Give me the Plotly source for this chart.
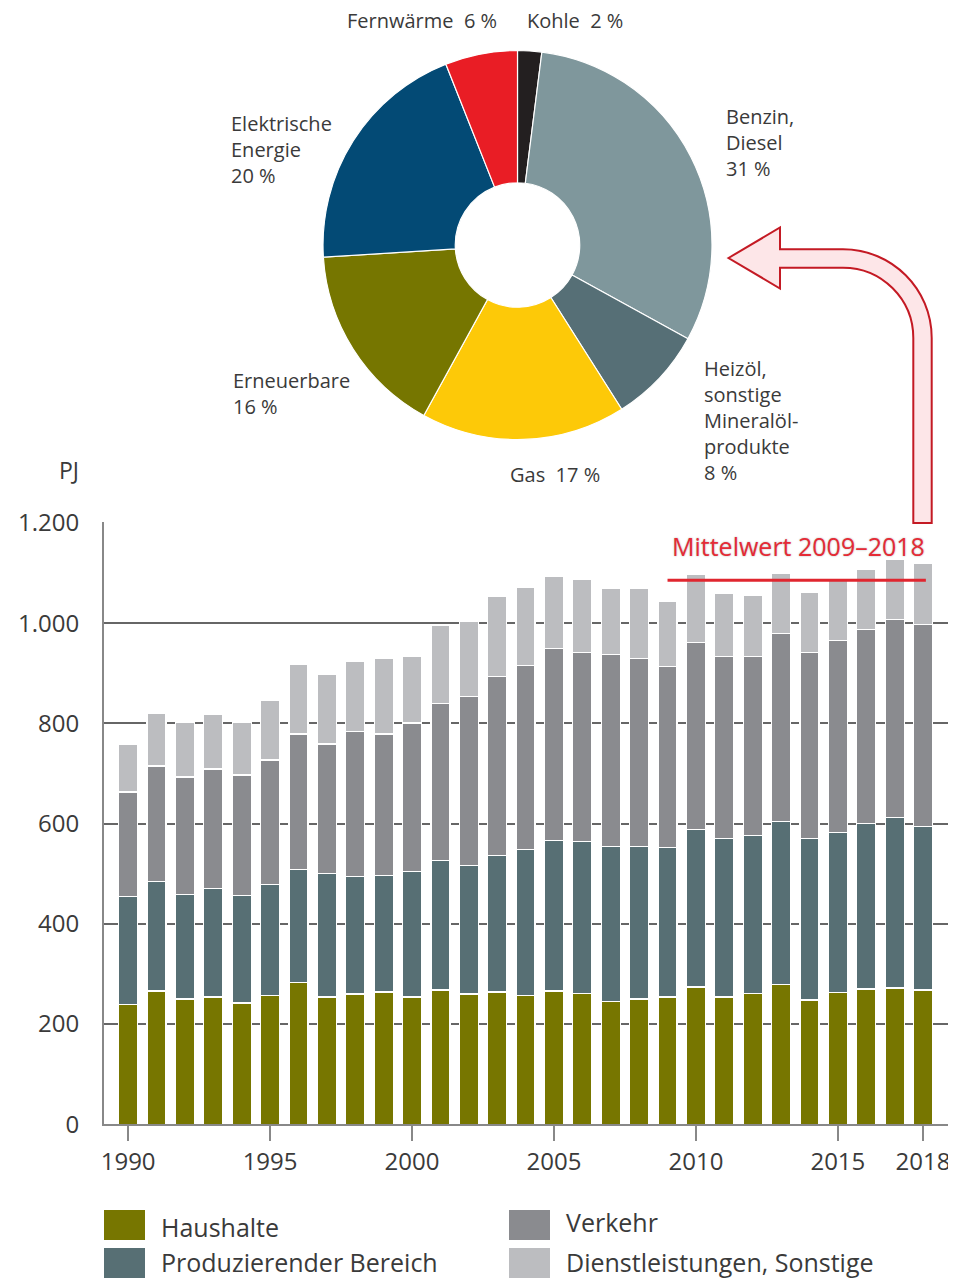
import plotly.graph_objects as go

# Die Seite hat 8 px Rand -> Figur entsprechend kleiner und Koordinaten verschoben
OX, OY = 8, 8
W, H = 948, 1272


def px(x):
    # Pixel (Screenshot) -> paper (horizontal)
    return (x - OX) / W


def py(y):
    # Pixel (Screenshot, von oben) -> paper (vertikal)
    return 1 - (y - OY) / H


# Endenergieverbrauch nach Sektoren (PJ)
years = list(range(1990, 2019))
haushalte = [239, 266, 250, 254, 242, 257, 283, 254, 260, 264, 254, 268, 260, 264, 257,
             266, 261, 245, 250, 254, 274, 254, 261, 279, 248, 263, 270, 272, 268]
produzierend = [215, 218, 208, 216, 214, 222, 226, 246, 235, 233, 250, 259, 256, 272, 291,
                301, 304, 310, 305, 299, 315, 317, 315, 326, 323, 320, 330, 340, 326]
verkehr = [209, 231, 235, 239, 241, 248, 270, 259, 289, 282, 297, 313, 338, 358, 367,
           382, 377, 382, 374, 360, 372, 362, 357, 374, 371, 382, 388, 395, 403]
dienstleistungen = [96, 106, 110, 110, 106, 118, 138, 138, 139, 150, 132, 155, 149, 160, 157,
                    145, 146, 133, 141, 130, 136, 127, 123, 121, 120, 122, 119, 121, 123]

# Energieträger (Anteile in %)
pie_labels = ["Kohle", "Benzin, Diesel", "Heizöl, sonstige Mineralölprodukte", "Gas",
              "Erneuerbare", "Elektrische Energie", "Fernwärme"]
pie_values = [2, 31, 8, 17, 16, 20, 6]
pie_colors = ["#231f20", "#7f979c", "#566f76", "#fdc908", "#767600", "#034a75", "#e91d25"]

x_ticks = [1990, 1995, 2000, 2005, 2010, 2015, 2018]
y_ticks = [0, 200, 400, 600, 800, 1000, 1200]
y_ticklabels = ["0", "200", "400", "600", "800", "1.000", "1.200"]

sectors = [
    ("Haushalte", haushalte, "#777600"),
    ("Produzierender Bereich", produzierend, "#576f74"),
    ("Verkehr", verkehr, "#8a8b8f"),
    ("Dienstleistungen, Sonstige", dienstleistungen, "#bcbdc0"),
]

totals = [sum(v) for v in zip(haushalte, produzierend, verkehr, dienstleistungen)]
mean_years = [y for y in years if y >= 2009]
mittelwert = sum(t for y, t in zip(years, totals) if y >= 2009) / len(mean_years)

FONT = "Open Sans"
TXT = "#3a3a3a"

fig = go.Figure()

fig.add_trace(go.Pie(
    labels=pie_labels,
    values=pie_values,
    marker=dict(colors=pie_colors, line=dict(color="white", width=1.2)),
    sort=False,
    direction="clockwise",
    rotation=0,
    hole=0.32,
    textinfo="none",
    hoverinfo="label+percent",
    showlegend=False,
    domain=dict(x=[px(323), px(712)], y=[py(440), py(50)]),
))

for name, vals, color in sectors:
    fig.add_trace(go.Bar(
        x=years, y=vals, name=name,
        marker=dict(color=color, line=dict(color="white", width=1.2)),
        showlegend=False,
    ))

fig.add_trace(go.Scatter(
    x=[mean_years[0], mean_years[-1] + 0.1], y=[mittelwert, mittelwert],
    mode="lines", line=dict(color="#e0262f", width=3),
    showlegend=False, hoverinfo="skip",
))

fig.update_layout(
    width=W, height=H,
    margin=dict(l=0, r=0, t=0, b=0, autoexpand=False),
    paper_bgcolor="white", plot_bgcolor="white",
    barmode="stack", bargap=0.33,
    font=dict(family=FONT, color=TXT),
    xaxis=dict(
        domain=[px(104), px(950)],
        range=[1989.15, 2018.95],
        tickvals=x_ticks,
        ticks="outside", ticklen=15, tickwidth=2, tickcolor="#888",
        showline=True, linecolor="#888", linewidth=2,
        showgrid=False, zeroline=False, automargin=False,
        tickfont=dict(size=24, color=TXT),
    ),
    yaxis=dict(
        domain=[py(1124.3), py(522)],
        range=[0, 1202],
        tickvals=y_ticks, ticktext=y_ticklabels,
        showline=True, linecolor="#888", linewidth=2,
        showgrid=True, gridcolor="#666", gridwidth=1.5,
        zeroline=False, automargin=False,
        ticklabelstandoff=18,
        tickfont=dict(size=24, color=TXT),
    ),
)

# Pfeil vom Mittelwert zum Kreisdiagramm
k = 0.5523
cx, cy = 843, 338
ro, ri = 88.7, 70.3
pts = [
    ("M", [(728.5, 258)]),
    ("L", [(780, 227.5)]),
    ("L", [(780, 249.3)]),
    ("L", [(cx, cy - ro)]),
    ("C", [(cx + k * ro, cy - ro), (cx + ro, cy - k * ro), (cx + ro, cy)]),
    ("L", [(cx + ro, 523)]),
    ("L", [(cx + ri, 523)]),
    ("L", [(cx + ri, cy)]),
    ("C", [(cx + ri, cy - k * ri), (cx + k * ri, cy - ri), (cx, cy - ri)]),
    ("L", [(780, cy - ri)]),
    ("L", [(780, 288.5)]),
]
path = ""
for cmd, coords in pts:
    path += cmd + " " + " ".join(f"{px(a):.5f},{py(b):.5f}" for a, b in coords) + " "
path += "Z"
fig.add_shape(type="path", path=path, xref="paper", yref="paper",
              fillcolor="#fde6e8", line=dict(color="#c41a24", width=2), layer="above")

# Beschriftung Kreisdiagramm
pie_text = [
    ("Fernwärme\u00a0 6 %", 345, 5),
    ("Kohle\u00a0 2 %", 525, 5),
    ("Elektrische<br>Energie<br>20 %", 229, 108),
    ("Benzin,<br>Diesel<br>31 %", 724, 101),
    ("Heizöl,<br>sonstige<br>Mineralöl-<br>produkte<br>8 %", 702, 353),
    ("Erneuerbare<br>16 %", 231, 365),
    ("Gas\u00a0 17 %", 508, 459),
]
for text, x, y in pie_text:
    fig.add_annotation(text=text, x=px(x), y=py(y), xref="paper", yref="paper",
                       xanchor="left", yanchor="top", align="left", showarrow=False,
                       font=dict(size=20, color=TXT, family=FONT))

fig.add_annotation(text="PJ", x=px(81), y=py(470), xref="paper", yref="paper",
                   xanchor="right", yanchor="middle", showarrow=False,
                   font=dict(size=23, color=TXT, family=FONT))

fig.add_annotation(text="Mittelwert 2009–2018", x=px(798), y=py(546), xref="paper", yref="paper",
                   xanchor="center", yanchor="middle", showarrow=False,
                   font=dict(size=25, color="#e52b36", family=FONT, shadow="0 0 2px #b0b0b0"))

# Legende
legend_items = [
    ("Haushalte", "#777600", 104, 1210, 1227),
    ("Produzierender Bereich", "#576f74", 104, 1248, 1262),
    ("Verkehr", "#8a8b8f", 509, 1210, 1222),
    ("Dienstleistungen, Sonstige", "#bcbdc0", 509, 1248, 1262),
]
for name, color, x0, y0, ty in legend_items:
    fig.add_shape(type="rect", xref="paper", yref="paper",
                  x0=px(x0), x1=px(x0 + 41), y0=py(y0 + 30), y1=py(y0),
                  fillcolor=color, line=dict(width=0))
    fig.add_annotation(text=name, x=px(x0 + 55), y=py(ty), xref="paper", yref="paper",
                       xanchor="left", yanchor="middle", showarrow=False,
                       font=dict(size=25, color=TXT, family=FONT))

fig.write_html("out.html")
